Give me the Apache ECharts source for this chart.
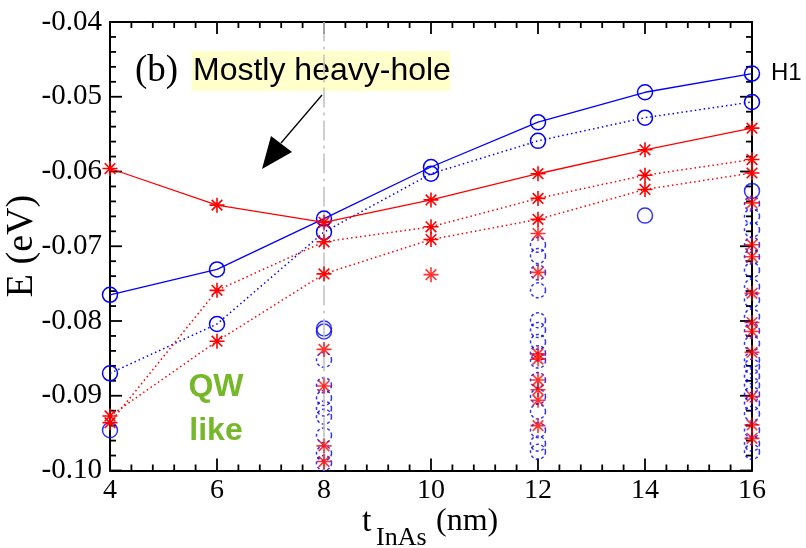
<!DOCTYPE html>
<html>
<head>
<meta charset="utf-8">
<script src="https://cdn.jsdelivr.net/npm/echarts@6/dist/echarts.min.js"></script>
<style>html,body{margin:0;padding:0;background:#fff;}#chart{width:806px;height:548px;}</style>
</head>
<body>
<div id="chart"></div>
<script>
// ---- data ----
const tValues = [4, 6, 8, 10, 12, 14, 16];
const h1Solid    = [-0.0765, -0.0731, -0.0663, -0.0594, -0.0534, -0.0494, -0.0469];
const blueDotted = [-0.0870, -0.0804, -0.0681, -0.0603, -0.0559, -0.0528, -0.0507];
const redSolid   = [-0.0596, -0.0645, -0.0668, -0.0638, -0.0603, -0.0571, -0.0542];
const redDottedA = [-0.0936, -0.0759, -0.0694, -0.0674, -0.0636, -0.0605, -0.0584];
const redDottedB = [-0.0927, -0.0827, -0.0737, -0.0691, -0.0664, -0.0624, -0.0602];

const blueLoneX = [4, 8, 8, 14, 16];
const blueLoneE = [-0.0946, -0.0810, -0.0814, -0.0659, -0.0626];
const blueDash8  = [-0.0852, -0.0886, -0.0903, -0.0917, -0.0928, -0.0953, -0.0977, -0.0990];
const blueDash12 = [-0.0698, -0.0713, -0.0735, -0.0759, -0.0799, -0.0812, -0.0828, -0.0843, -0.0853, -0.0879, -0.0901, -0.0921, -0.0946, -0.0964, -0.0975];
const blueDash16 = [-0.0643, -0.0660, -0.0678, -0.0698, -0.0714, -0.0732, -0.0754, -0.0772, -0.0794, -0.0813, -0.0830, -0.0852, -0.0861, -0.0874, -0.0886, -0.0898, -0.0910, -0.0924, -0.0946, -0.0964, -0.0975];
const redExtra8  = [-0.0838, -0.0887, -0.0967, -0.0988];
const redExtra10 = [-0.0738];
const redExtra12 = [-0.0683, -0.0735, -0.0844, -0.0851, -0.0879, -0.0892, -0.0906, -0.0940];
const redExtra16 = [-0.0642, -0.0698, -0.0714, -0.0763, -0.0802, -0.0814, -0.0842, -0.0901, -0.0939, -0.0957];

const xTicks = [4, 6, 8, 10, 12, 14, 16];
const yTicks = [-0.10, -0.09, -0.08, -0.07, -0.06, -0.05, -0.04];
const minorDivisions = 5;

const pairs = (ys) => tValues.map((x, i) => [x, ys[i]]);
const col = (x, ys) => ys.map(y => [x, y]);
const BLUE = '#0000ff', RED = '#ff0000';
const STAR = 'path://M10,0L10,20M0,10L20,10M2.93,2.93L17.07,17.07M2.93,17.07L17.07,2.93';
const circleStyle = (dash) => ({color: 'rgba(0,0,0,0)', borderColor: BLUE, borderWidth: 1.5, borderType: dash ? [3, 2.5] : 'solid'});
const starStyle = {color: 'rgba(0,0,0,0)', borderColor: RED, borderWidth: 1.6};
const serif = 'Liberation Serif';

const X0 = xTicks[0], X1 = xTicks[xTicks.length - 1];
const Y0 = yTicks[0], Y1 = yTicks[yTicks.length - 1];

// inward frame ticks (major + minor) on all four sides: [x, y, kind(0=x,1=y), major(1)/minor(0)]
const tickData = [];
function addTicks(ticks, kind) {
  for (let i = 0; i < ticks.length; i++) {
    const v = ticks[i];
    tickData.push(kind === 0 ? [v, Y0, 0, 1] : [X0, v, 1, 1]);
    if (i < ticks.length - 1) {
      const step = (ticks[i + 1] - v) / minorDivisions;
      for (let k = 1; k < minorDivisions; k++) {
        const m = v + k * step;
        tickData.push(kind === 0 ? [m, Y0, 0, 0] : [X0, m, 1, 0]);
      }
    }
  }
}
addTicks(xTicks, 0);
addTicks(yTicks, 1);

function renderTick(params, api) {
  const kind = api.value(2);
  const len = api.value(3) ? 12 : 6;
  const st = {stroke: '#000', lineWidth: 1.8, fill: null};
  if (kind === 0) {
    const v = api.value(0);
    const a = api.coord([v, Y0]), b = api.coord([v, Y1]);
    return {type: 'group', children: [
      {type: 'line', shape: {x1: a[0], y1: a[1], x2: a[0], y2: a[1] - len}, style: st},
      {type: 'line', shape: {x1: b[0], y1: b[1], x2: b[0], y2: b[1] + len}, style: st}
    ]};
  }
  const v = api.value(1);
  const a = api.coord([X0, v]), b = api.coord([X1, v]);
  return {type: 'group', children: [
    {type: 'line', shape: {x1: a[0], y1: a[1], x2: a[0] + len, y2: a[1]}, style: st},
    {type: 'line', shape: {x1: b[0], y1: b[1], x2: b[0] - len, y2: b[1]}, style: st}
  ]};
}

function axis(isX, pos, labels) {
  return {
    type: 'value', position: pos,
    min: isX ? X0 : Y0, max: isX ? X1 : Y1,
    interval: isX ? 2 : 0.01,
    axisLine: {show: true, onZero: false, lineStyle: {color: '#000', width: 2}},
    axisTick: {show: false},
    minorTick: {show: false},
    splitLine: {show: false},
    axisLabel: {
      show: labels, color: '#000', fontFamily: serif, fontSize: isX ? 28 : 29,
      margin: isX ? 6 : 8,
      formatter: isX ? (v) => String(v) : (v) => v.toFixed(2)
    }
  };
}

const chart = echarts.init(document.getElementById('chart'));
const option = {
  animation: false,
  backgroundColor: '#fff',
  grid: {left: 110, top: 22, width: 642, height: 448.5},
  xAxis: [axis(true, 'bottom', true), axis(true, 'top', false)],
  yAxis: [axis(false, 'left', true), axis(false, 'right', false)],
  series: [
    {type: 'custom', coordinateSystem: 'cartesian2d', data: tickData, renderItem: renderTick, clip: false, silent: true, z: 3},
    {type: 'line', data: pairs(h1Solid), symbol: 'circle', symbolSize: 15,
     lineStyle: {color: BLUE, width: 1.3}, itemStyle: circleStyle(false), z: 5,
     markLine: {silent: true, symbol: 'none', label: {show: false},
       lineStyle: {color: '#c4c4c4', width: 1.6, type: [20, 5, 3, 5]},
       data: [{xAxis: 8}]}},
    {type: 'line', data: pairs(blueDotted), symbol: 'circle', symbolSize: 15,
     lineStyle: {color: BLUE, width: 1.5, type: [1.5, 3]}, itemStyle: circleStyle(false), z: 4},
    {type: 'line', data: pairs(redSolid), symbol: STAR, symbolSize: 15,
     lineStyle: {color: RED, width: 1.3}, itemStyle: starStyle, z: 6},
    {type: 'line', data: pairs(redDottedA), symbol: STAR, symbolSize: 15,
     lineStyle: {color: RED, width: 1.5, type: [1.5, 3]}, itemStyle: starStyle, z: 6},
    {type: 'line', data: pairs(redDottedB), symbol: STAR, symbolSize: 15,
     lineStyle: {color: RED, width: 1.5, type: [1.5, 3]}, itemStyle: starStyle, z: 6},
    {type: 'scatter', data: blueLoneX.map((x, i) => [x, blueLoneE[i]]), symbol: 'circle', symbolSize: 15,
     itemStyle: circleStyle(false), z: 4},
    {type: 'scatter', data: [].concat(col(8, blueDash8), col(12, blueDash12), col(16, blueDash16)),
     symbol: 'circle', symbolSize: 15, itemStyle: circleStyle(true), z: 4},
    {type: 'scatter', data: [].concat(col(8, redExtra8), col(10, redExtra10), col(12, redExtra12), col(16, redExtra16)),
     symbol: STAR, symbolSize: 15, itemStyle: starStyle, z: 6}
  ],
  graphic: [
    {type: 'text', x: 22, y: 246, rotation: Math.PI / 2,
     style: {text: 'E (eV)', font: '38px "Liberation Serif"', fill: '#000', align: 'center', verticalAlign: 'middle'}},
    {type: 'text', x: 362, y: 522,
     style: {text: 't', font: '34px "Liberation Serif"', fill: '#000', align: 'left', verticalAlign: 'middle'}},
    {type: 'text', x: 376, y: 538,
     style: {text: 'InAs', font: '26px "Liberation Serif"', fill: '#000', align: 'left', verticalAlign: 'middle'}},
    {type: 'text', x: 436, y: 522,
     style: {text: '(nm)', font: '32px "Liberation Serif"', fill: '#000', align: 'left', verticalAlign: 'middle'}},
    {type: 'rect', shape: {x: 191.5, y: 51, width: 259, height: 40}, style: {fill: '#ffffcc'}, z: 1},
    {type: 'text', x: 193, y: 71,
     style: {text: 'Mostly heavy-hole', font: '32px "Liberation Sans"', fill: '#000', align: 'left', verticalAlign: 'middle'}, z: 2},
    {type: 'text', x: 135, y: 71,
     style: {text: '(b)', font: '37px "Liberation Serif"', fill: '#000', align: 'left', verticalAlign: 'middle'}, z: 2},
    {type: 'line', shape: {x1: 322, y1: 95, x2: 281, y2: 143}, style: {stroke: '#000', lineWidth: 1.3}, z: 10},
    {type: 'polygon', shape: {points: [[262, 169], [271, 136], [292, 152]]}, style: {fill: '#000'}, z: 10},
    {type: 'text', x: 771, y: 73,
     style: {text: 'H1', font: '24px "Liberation Sans"', fill: '#000', align: 'left', verticalAlign: 'middle'}},
    {type: 'text', x: 216, y: 387,
     style: {text: 'QW', font: 'bold 32px "Liberation Sans"', fill: '#76b82a', align: 'center', verticalAlign: 'middle'}},
    {type: 'text', x: 216, y: 431,
     style: {text: 'like', font: 'bold 32px "Liberation Sans"', fill: '#76b82a', align: 'center', verticalAlign: 'middle'}}
  ]
};
chart.setOption(option);
</script>
</body>
</html>
